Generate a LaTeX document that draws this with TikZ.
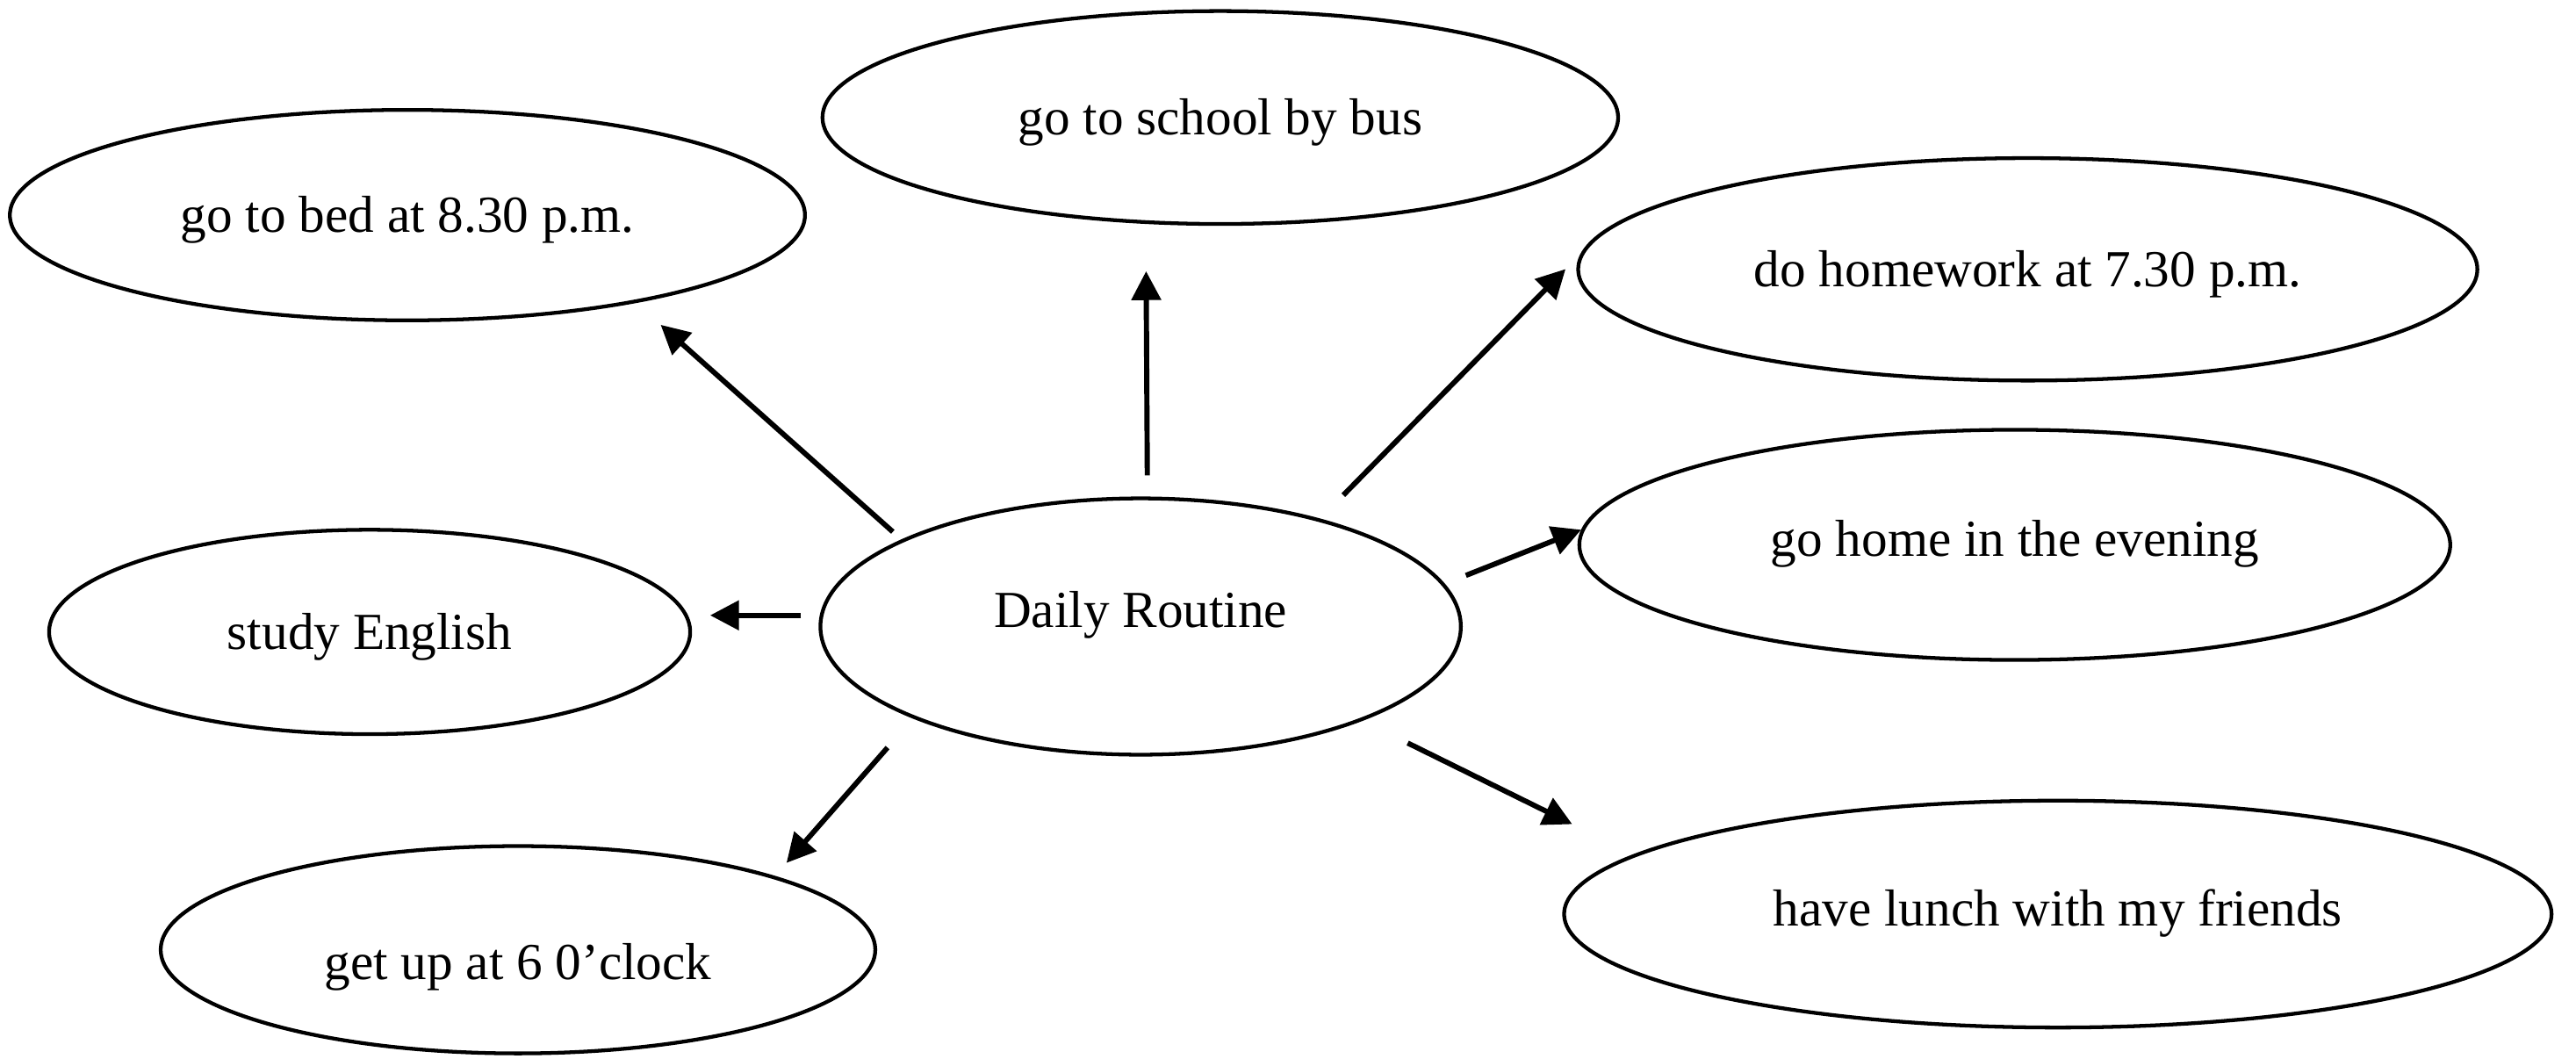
\documentclass[tikz,border=0pt]{standalone}
\usepackage{fontspec}
\setmainfont{Liberation Serif}
\usetikzlibrary{
  arrows.meta,
  shapes.geometric
}
\tikzset{
  bubble/.style={
    draw,
    ellipse,
    line width=0.65pt,
    inner sep=0pt,
    text height=6pt,
    text depth=0pt,
    font=\fontsize{9}{11}\selectfont
  },
  spoke/.style={
    -{Triangle[length=5pt,width=5pt]},
    line width=0.9pt
  }
}

\begin{document}
\begin{tikzpicture}[x=0.01cm, y=-0.01cm]
  \useasboundingbox (0,0) rectangle (1568,644);

  \node[bubble, minimum width=3.896cm, minimum height=1.559cm, text depth=5.6pt] (routine) at (694.3,381.3) {Daily Routine};

  \node[bubble, minimum width=4.837cm, minimum height=1.28cm] (bed) at (248,130.9) {go to bed at 8.30 p.m.};
  \node[bubble, minimum width=4.84cm, minimum height=1.295cm] (school) at (742.8,71.5) {go to school by bus};
  \node[bubble, minimum width=5.47cm, minimum height=1.353cm] (homework) at (1234.3,163.9) {do homework at 7.30 p.m.};
  \node[bubble, minimum width=5.298cm, minimum height=1.40cm, text depth=2pt] (home) at (1226.4,331.6) {go home in the evening};
  \node[bubble, minimum width=3.90cm, minimum height=1.243cm] (study) at (225,384.6) {study English};
  \node[bubble, minimum width=4.347cm, minimum height=1.261cm, text height=10.2pt] (getup) at (315.3,578) {get up at 6 0’clock};
  \node[bubble, minimum width=6.007cm, minimum height=1.38cm, text depth=2pt] (lunch) at (1252.6,556.3) {have lunch with my friends};

  \draw[spoke, shorten <=0.07cm, shorten >=0.20cm] (routine.160.8) -- (bed.339.85);
  \draw[spoke, shorten <=0.129cm, shorten >=0.2875cm] (routine.87) -- (school.235.1);
  \draw[spoke, shorten <=0.20cm, shorten >=0.131cm] (routine.31.36) -- (homework.178.8);
  \draw[spoke, shorten <=0.138cm] (routine.8.83) -- (home.178.6);
  \draw[spoke, shorten <=0.115cm, shorten >=0.11cm] (routine.178.94) -- (routine.178.94 -| study.east);
  \draw[spoke, shorten <=0.235cm, shorten >=0.106cm] (routine.202) -- (getup.16.2);
  \draw[spoke, shorten <=0.306cm, shorten >=0.417cm] (routine.337.1) -- (lunch.172.06);
\end{tikzpicture}
\end{document}
